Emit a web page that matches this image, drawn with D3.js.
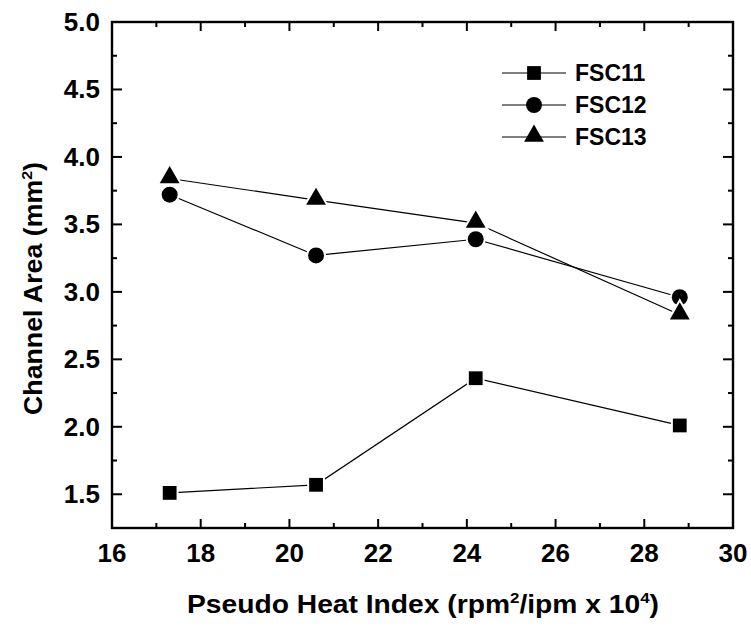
<!DOCTYPE html>
<html><head><meta charset="utf-8">
<script src="https://cdn.jsdelivr.net/npm/d3@7"></script>
<style>
body{margin:0;background:#fff;}
text{font-family:"Liberation Sans",Arial,sans-serif;font-weight:bold;fill:#000;}
</style></head>
<body><svg id="c" width="751" height="626"></svg>
<script>
const xValues = [17.3, 20.6, 24.2, 28.8];
const fsc11 = [1.51, 1.57, 2.36, 2.01];
const fsc12 = [3.72, 3.27, 3.39, 2.96];
const fsc13 = [3.84, 3.68, 3.51, 2.83];
const seriesNames = ["FSC11", "FSC12", "FSC13"];
const seriesSymbols = ["square", "circle", "triangle"];
const xTicks = [16, 18, 20, 22, 24, 26, 28, 30];
const yTicks = [1.5, 2.0, 2.5, 3.0, 3.5, 4.0, 4.5, 5.0];

const svg = d3.select("#c");
const L = 112, R = 733, T = 22, B = 528;
const x = d3.scaleLinear().domain([16, 30]).range([L, R]);
const y = d3.scaleLinear().domain([1.25, 5.0]).range([B, T]);

const series = [fsc11, fsc12, fsc13].map((v, i) => ({
  name: seriesNames[i], sym: seriesSymbols[i],
  pts: v.map((d, j) => ({x: xValues[j], y: d}))
}));

// ticks (inward), all four sides
const g = svg.append("g");
const xMinor = d3.range(16, 30.01, 1);
const yMinor = d3.range(1.25, 5.001, 0.25);
function majX(v){ return xTicks.some(t => Math.abs(t - v) < 1e-6); }
function majY(v){ return yTicks.some(t => Math.abs(t - v) < 1e-6); }
xMinor.forEach(v => {
  const len = majX(v) ? 9 : 5;
  g.append("line").attr("x1", x(v)).attr("x2", x(v)).attr("y1", B).attr("y2", B - len).attr("stroke", "#000").attr("stroke-width", 2);
  g.append("line").attr("x1", x(v)).attr("x2", x(v)).attr("y1", T).attr("y2", T + len).attr("stroke", "#000").attr("stroke-width", 2);
});
yMinor.forEach(v => {
  const len = majY(v) ? 10 : 5;
  g.append("line").attr("y1", y(v)).attr("y2", y(v)).attr("x1", L).attr("x2", L + len).attr("stroke", "#000").attr("stroke-width", 2);
  g.append("line").attr("y1", y(v)).attr("y2", y(v)).attr("x1", R).attr("x2", R - len).attr("stroke", "#000").attr("stroke-width", 2);
});
g.append("rect").attr("x", L).attr("y", T).attr("width", R - L).attr("height", B - T)
  .attr("fill", "none").attr("stroke", "#000").attr("stroke-width", 2.4);

// tick labels
xTicks.forEach(v => {
  svg.append("text").attr("x", x(v)).attr("y", B + 34).attr("text-anchor", "middle")
    .attr("font-size", 26).text(v);
});
yTicks.forEach(v => {
  svg.append("text").attr("x", L - 12).attr("y", y(v) + 9).attr("text-anchor", "end")
    .attr("font-size", 26).text(v.toFixed(1));
});

// axis titles
const xt = svg.append("text").attr("x", 187).attr("y", 613).attr("font-size", 25)
  .attr("textLength", 472).attr("lengthAdjust", "spacingAndGlyphs");
xt.append("tspan").text("Pseudo Heat Index (rpm");
xt.append("tspan").attr("dy", -10).attr("font-size", 15).text("2");
xt.append("tspan").attr("dy", 10).text("/ipm x 10");
xt.append("tspan").attr("dy", -10).attr("font-size", 15).text("4");
xt.append("tspan").attr("dy", 10).text(")");

const yt = svg.append("text").attr("transform", "translate(42,415) rotate(-90)")
  .attr("font-size", 25).attr("textLength", 253).attr("lengthAdjust", "spacingAndGlyphs");
yt.append("tspan").text("Channel Area (mm");
yt.append("tspan").attr("dy", -10).attr("font-size", 15).text("2");
yt.append("tspan").attr("dy", 10).text(")");

const symMap = {square: d3.symbolSquare, circle: d3.symbolCircle, triangle: d3.symbolTriangle};
const symSize = {square: 190, circle: 200, triangle: 170};
const line = d3.line().x(d => x(d.x)).y(d => y(d.y));

series.forEach(s => {
  svg.append("path").attr("d", line(s.pts)).attr("fill", "none").attr("stroke", "#000").attr("stroke-width", 1.2);
});
series.forEach(s => {
  svg.selectAll(null).data(s.pts).enter().append("path")
    .attr("d", d3.symbol().type(symMap[s.sym]).size(symSize[s.sym]))
    .attr("transform", d => "translate(" + x(d.x) + "," + (y(d.y) + (s.sym === "triangle" ? -1 : 0)) + ")")
    .attr("fill", "#000").attr("stroke", "#fff").attr("stroke-width", 4).attr("paint-order", "stroke");
});

// legend
const lg = svg.append("g");
series.forEach((s, i) => {
  const ly = 73 + i * 32;
  lg.append("line").attr("x1", 502).attr("x2", 566).attr("y1", ly).attr("y2", ly).attr("stroke", "#000").attr("stroke-width", 1.2);
  lg.append("path").attr("d", d3.symbol().type(symMap[s.sym]).size(symSize[s.sym])).attr("transform", "translate(534," + (ly + (s.sym === "triangle" ? -1 : 0)) + ")").attr("fill", "#000");
  lg.append("text").attr("x", 575).attr("y", ly + 8).attr("font-size", 23).text(s.name);
});
</script></body></html>
